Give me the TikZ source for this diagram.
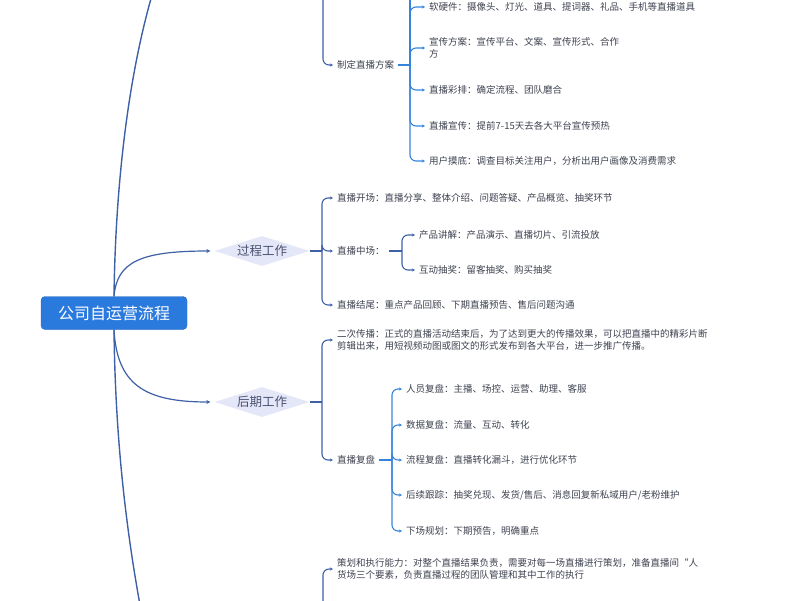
\documentclass[tikz,border=0pt]{standalone}
\usepackage{fontspec}
\newfontfamily\cjk{Noto Sans CJK SC}
\usepackage{tikz}
\usetikzlibrary{positioning}
\usetikzlibrary{shapes.geometric}
\usetikzlibrary{arrows.meta}
\definecolor{rootBlue}{RGB}{42,122,222}
\definecolor{lineBlue}{RGB}{62,96,166}
\definecolor{brightBlue}{RGB}{52,132,220}
\definecolor{stageFill}{RGB}{228,231,248}
\definecolor{stageText}{RGB}{72,82,112}
\definecolor{leafText}{RGB}{62,66,80}
\tikzstyle{rootBox} = [rectangle, rounded corners=4pt, draw=rootBlue!85!black, fill=rootBlue, text=white, minimum width=146pt, minimum height=33pt, font=\cjk\fontsize{16}{18}\selectfont]
\tikzstyle{stage} = [diamond, fill=stageFill, text=stageText, aspect=3.2, minimum width=95pt, minimum height=30pt, inner sep=0pt, font=\cjk\fontsize{12.5}{14}\selectfont]
\tikzstyle{leaf} = [anchor=west, inner sep=4pt, text=leafText, align=left, font=\cjk\fontsize{9.5}{12.5}\selectfont]
\tikzstyle{trunk} = [draw=lineBlue, line width=1.4pt]
\tikzstyle{branch} = [draw=lineBlue, line width=1.2pt, shorten >=4pt, -{Stealth[length=4pt,width=4pt]}]
\tikzstyle{rail} = [draw=lineBlue, line width=1.1pt]
\tikzstyle{bracket} = [rail, rounded corners=6pt, -{Stealth[length=3pt,width=3pt]}]
\tikzstyle{bracketB} = [bracket, draw=brightBlue]

\begin{document}
\begin{tikzpicture}[x=1pt, y=-1pt]
    \useasboundingbox (0,0) rectangle (800,600);
    \clip (0,0) rectangle (800,600);
    \node (root) at (114,313) [rootBox] {公司自运营流程};
    \node (proc) at (262,251) [stage] {过程工作};
    \node (post) at (262,402) [stage] {后期工作};
    % ends that run off the page
    \coordinate (prepStage) at (152,-5);
    \coordinate (skillStage) at (140,605);
    \coordinate (prepRail) at (323,-10);
    \coordinate (planRail) at (410,-10);
    \coordinate (skillRail) at (323,610);
    \coordinate (planJ) at (410,65);
    \coordinate (procJ) at (322,251);
    \coordinate (midJ) at (402,251);
    \coordinate (postJ) at (322,402);
    \coordinate (reviewJ) at (392,460);

    \node (plan) at (333,65) [leaf] {制定直播方案};
    \node (gear) at (425,7) [leaf] {软硬件：摄像头、灯光、道具、提词器、礼品、手机等直播道具};
    \node (promo) at (425,48) [leaf] {宣传方案：宣传平台、文案、宣传形式、合作\\方};
    \node (rehearse) at (425,90) [leaf] {直播彩排：确定流程、团队磨合};
    \node (warmup) at (425,126) [leaf] {直播宣传：提前7-15天去各大平台宣传预热};
    \node (users) at (425,161) [leaf] {用户摸底：调查目标关注用户，分析出用户画像及消费需求};

    \node (open) at (333,198) [leaf] {直播开场：直播分享、整体介绍、问题答疑、产品概览、抽奖环节};
    \node (mid) at (333,251) [leaf] {直播中场：};
    \node (explain) at (415,235) [leaf] {产品讲解：产品演示、直播切片、引流投放};
    \node (lottery) at (415,270) [leaf] {互动抽奖：留客抽奖、购买抽奖};
    \node (close) at (333,305) [leaf] {直播结尾：重点产品回顾、下期直播预告、售后问题沟通};

    \node (spread) at (333,340) [leaf] {二次传播：正式的直播活动结束后，为了达到更大的传播效果，可以把直播中的精彩片断\\剪辑出来，用短视频动图或图文的形式发布到各大平台，进一步推广传播。};
    \node (review) at (333,460) [leaf] {直播复盘};
    \node (staff) at (402,389) [leaf] {人员复盘：主播、场控、运营、助理、客服};
    \node (data) at (402,425) [leaf] {数据复盘：流量、互动、转化};
    \node (flow) at (402,460) [leaf] {流程复盘：直播转化漏斗，进行优化环节};
    \node (follow) at (402,495) [leaf] {后续跟踪：抽奖兑现、发货/售后、消息回复新私域用户/老粉维护};
    \node (next) at (402,531) [leaf] {下场规划：下期预告，明确重点};

    \node (ability) at (333,569) [leaf] {策划和执行能力：对整个直播结果负责，需要对每一场直播进行策划，准备直播间“人\\货场三个要素，负责直播过程的团队管理和其中工作的执行};

    \draw [trunk] (root.north) .. controls (115,220) and (122,100) .. (prepStage);
    \draw [trunk] (root.south) .. controls (115,410) and (121,500) .. (skillStage);
    \draw [branch] (root.north) .. controls (117,262) and (140,251) .. (proc.west);
    \draw [branch] (root.south) .. controls (117,385) and (145,402) .. (post.west);

    \draw [bracket] (prepRail) |- (plan.west);
    \draw [rail, draw=brightBlue] (plan.east) -- (planJ) -- (planRail);
    \foreach \c in {gear,promo,rehearse,warmup,users}
        \draw [bracketB] (planJ) |- (\c.west);

    \draw [rail] (proc.east) -- (procJ);
    \foreach \c in {open,mid,close}
        \draw [bracket] (procJ) |- (\c.west);
    \draw [rail] (mid.east) -- (midJ);
    \foreach \c in {explain,lottery}
        \draw [bracket] (midJ) |- (\c.west);

    \draw [rail] (post.east) -- (postJ);
    \foreach \c in {spread,review}
        \draw [bracket] (postJ) |- (\c.west);
    \draw [rail, draw=brightBlue] (review.east) -- (reviewJ);
    \foreach \c in {staff,data,flow,follow,next}
        \draw [bracketB] (reviewJ) |- (\c.west);

    \draw [bracket] (skillRail) |- (ability.west);
\end{tikzpicture}
\end{document}
